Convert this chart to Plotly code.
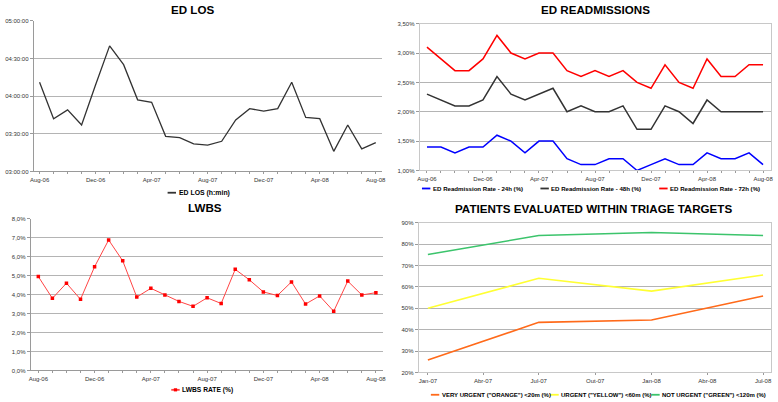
import plotly.graph_objects as go

W, H = 778, 402

# ---------------- data ----------------
months = ["Aug-06", "Sep-06", "Oct-06", "Nov-06", "Dec-06", "Jan-07", "Feb-07", "Mar-07",
          "Apr-07", "May-07", "Jun-07", "Jul-07", "Aug-07", "Sep-07", "Oct-07", "Nov-07",
          "Dec-07", "Jan-08", "Feb-08", "Mar-08", "Apr-08", "May-08", "Jun-08", "Jul-08",
          "Aug-08"]
month_labels = ["Aug-06", "Dec-06", "Apr-07", "Aug-07", "Dec-07", "Apr-08", "Aug-08"]

ed_los = ["04:11", "03:42", "03:49", "03:37", "04:09", "04:40", "04:25", "03:57",
          "03:55", "03:28", "03:27", "03:22", "03:21", "03:24", "03:41", "03:50",
          "03:48", "03:50", "04:11", "03:43", "03:42", "03:16", "03:37", "03:18",
          "03:23"]
los_ticks = ["03:00", "03:30", "04:00", "04:30", "05:00"]

readm_24h = [1.4, 1.4, 1.3, 1.4, 1.4, 1.6, 1.5, 1.3, 1.5, 1.5, 1.2, 1.1, 1.1, 1.2, 1.2,
             1.0, 1.1, 1.2, 1.1, 1.1, 1.3, 1.2, 1.2, 1.3, 1.1]
readm_48h = [2.3, 2.2, 2.1, 2.1, 2.2, 2.6, 2.3, 2.2, 2.3, 2.4, 2.0, 2.1, 2.0, 2.0, 2.1,
             1.7, 1.7, 2.1, 2.0, 1.8, 2.2, 2.0, 2.0, 2.0, 2.0]
readm_72h = [3.1, 2.9, 2.7, 2.7, 2.9, 3.3, 3.0, 2.9, 3.0, 3.0, 2.7, 2.6, 2.7, 2.6, 2.7,
             2.5, 2.4, 2.8, 2.5, 2.4, 2.9, 2.6, 2.6, 2.8, 2.8]
readm_ticks = [1.0, 1.5, 2.0, 2.5, 3.0, 3.5]

lwbs = [4.95, 3.80, 4.60, 3.75, 5.47, 6.88, 5.78, 3.87, 4.33, 3.98, 3.64, 3.38, 3.83,
        3.53, 5.33, 4.78, 4.14, 3.95, 4.67, 3.50, 3.93, 3.12, 4.71, 3.98, 4.10]
lwbs_ticks = [0, 1, 2, 3, 4, 5, 6, 7, 8]

triage_dates = ["2007-01-01", "2007-07-01", "2008-01-01", "2008-07-01"]
triage_orange = [25.8, 43.4, 44.5, 55.7]
triage_yellow = [50.0, 64.0, 58.0, 65.5]
triage_green = [75.1, 84.0, 85.4, 84.0]
triage_tick_dates = ["2007-01-01", "2007-04-01", "2007-07-01", "2007-10-01",
                     "2008-01-01", "2008-04-01", "2008-07-01"]
triage_tick_text = ["Jan-07", "Abr-07", "Jul-07", "Out-07", "Jan-08", "Abr-08", "Jul-08"]
triage_yticks = [20, 30, 40, 50, 60, 70, 80, 90]

# ---------------- helpers ----------------
FONT = "Liberation Sans, Arial, sans-serif"
GRID = "#b4b4b4"
AXIS = "#9a9a9a"
TICKC = "#333333"


def px(x):
    return x / W


def py(y):
    return 1 - y / H


def fmt_pct(v, nd):
    return (f"{v:.{nd}f}").replace(".", ",") + "%"


def cat_axis(domain, rng, anchor):
    return dict(domain=domain, anchor=anchor, type="category", range=rng,
                tickmode="array", tickvals=months,
                ticktext=[m if m in month_labels else "" for m in months],
                ticks="outside", ticklen=2, tickcolor=AXIS, tickwidth=1,
                showline=True, linecolor=AXIS, linewidth=1, showgrid=False,
                tickfont=dict(size=6, color=TICKC, family=FONT), zeroline=False)


def val_axis(domain, anchor, mirror=False, **kw):
    d = dict(domain=domain, anchor=anchor, showline=True, linecolor=AXIS, linewidth=1,
             showgrid=True, gridcolor=GRID, gridwidth=1, ticks="outside", ticklen=3,
             tickcolor=AXIS, zeroline=False,
             tickfont=dict(size=6, color=TICKC, family=FONT))
    if mirror:
        d["mirror"] = True
        d["linecolor"] = "#c8c8c8"
    d.update(kw)
    return d


fig = go.Figure()

# ---------------- panel 1 : ED LOS ----------------
fig.add_trace(go.Scatter(x=months, y=[f"2000-01-01 {v}:00" for v in ed_los],
                         mode="lines", line=dict(color="#333333", width=1.3),
                         name="ED LOS (h:min)", xaxis="x", yaxis="y", showlegend=False))

# ---------------- panel 2 : readmissions ----------------
for vals, col, nm in [(readm_24h, "#0000ff", "ED Readmission Rate - 24h (%)"),
                      (readm_48h, "#333333", "ED Readmission Rate - 48h (%)"),
                      (readm_72h, "#ff0000", "ED Readmission Rate - 72h (%)")]:
    fig.add_trace(go.Scatter(x=months, y=vals, mode="lines", line=dict(color=col, width=1.5),
                             name=nm, xaxis="x2", yaxis="y2", showlegend=False))

# ---------------- panel 3 : LWBS ----------------
fig.add_trace(go.Scatter(x=months, y=lwbs, mode="lines+markers",
                         line=dict(color="#ff4444", width=1),
                         marker=dict(symbol="square", size=3.5, color="#ff0000"),
                         name="LWBS RATE (%)", xaxis="x3", yaxis="y3", showlegend=False))

# ---------------- panel 4 : triage ----------------
for vals, col, nm in [(triage_orange, "#ff6a1a", 'VERY URGENT ("ORANGE") <20m (%)'),
                      (triage_yellow, "#ffff33", 'URGENT ("YELLOW") <60m (%)'),
                      (triage_green, "#3cc46c", 'NOT URGENT ("GREEN") <120m (%)')]:
    fig.add_trace(go.Scatter(x=triage_dates, y=vals, mode="lines",
                             line=dict(color=col, width=1.6),
                             name=nm, xaxis="x4", yaxis="y4", showlegend=False))

# ---------------- axes ----------------
layout = dict(
    width=W, height=H, margin=dict(l=0, r=0, t=0, b=0),
    paper_bgcolor="white", plot_bgcolor="white", showlegend=False,
    font=dict(family=FONT, color="#000000"),
    xaxis=cat_axis([px(30), px(382)], [-0.42, 24.45], "y"),
    yaxis=val_axis([py(171), py(18)], "x", type="date",
                   range=["2000-01-01 03:00", "2000-01-01 05:00"],
                   tickmode="array", tickvals=[f"2000-01-01 {t}" for t in los_ticks],
                   ticktext=[t + ":00" for t in los_ticks]),
    xaxis2=cat_axis([px(420), px(775)], [-0.52, 24.57], "y2"),
    yaxis2=val_axis([py(170), py(21)], "x2", mirror=True, range=[1.0, 3.5],
                    tickmode="array", tickvals=readm_ticks,
                    ticktext=[fmt_pct(v, 2) for v in readm_ticks]),
    xaxis3=cat_axis([px(27), px(383)], [-0.54, 24.51], "y3"),
    yaxis3=val_axis([py(373), py(219)], "x3", range=[0, 8],
                    tickmode="array", tickvals=lwbs_ticks,
                    ticktext=[fmt_pct(v, 1) for v in lwbs_ticks]),
    xaxis4=dict(domain=[px(419), px(775)], anchor="y4", type="date",
                range=["2006-12-17", "2008-07-14"], tickmode="array",
                tickvals=triage_tick_dates, ticktext=triage_tick_text,
                ticks="outside", ticklen=2, tickcolor=AXIS, showline=True,
                linecolor=AXIS, showgrid=False, zeroline=False,
                tickfont=dict(size=6, color=TICKC, family=FONT)),
    yaxis4=val_axis([py(375), py(223)], "x4", mirror=True, range=[20, 90],
                    tickmode="array", tickvals=triage_yticks,
                    ticktext=[f"{v}%" for v in triage_yticks]),
)
fig.update_layout(**layout)
fig.update_layout(xaxis2=dict(mirror=True, linecolor="#c8c8c8"),
                  xaxis4=dict(mirror=True, linecolor="#c8c8c8"))

# ---------------- titles ----------------
titles = [("ED LOS", 190.7, 6.5), ("ED READMISSIONS", 597.5, 6.5),
          ("LWBS", 203, 208), ("PATIENTS EVALUATED WITHIN TRIAGE TARGETS", 595.5, 208.5)]
for t, x, y in titles:
    fig.add_annotation(text=f"<b>{t}</b>", x=px(x), y=py(y), xref="paper", yref="paper",
                       showarrow=False, xanchor="center", yanchor="middle",
                       font=dict(size=11.6, family=FONT, color="#000000"))

# ---------------- legends (line sample + text) ----------------
shapes = []


def legend_entry(x0, y, color, text, size, marker=False):
    shapes.append(dict(type="line", xref="paper", yref="paper", x0=px(x0), x1=px(x0 + 8.5),
                       y0=py(y), y1=py(y), line=dict(color=color, width=1.8)))
    if marker:
        shapes.append(dict(type="rect", xref="paper", yref="paper",
                           x0=px(x0 + 2.6), x1=px(x0 + 5.9), y0=py(y + 1.6), y1=py(y - 1.6),
                           fillcolor="#ff0000", line=dict(width=0)))
    fig.add_annotation(text=f"<b>{text}</b>", x=px(x0 + 9), y=py(y), xref="paper",
                       yref="paper", showarrow=False, xanchor="left", yanchor="middle",
                       font=dict(size=size, family=FONT, color="#000000"))


legend_entry(165.3, 192.6, "#333333", "ED LOS (h:min)", 6.9)
legend_entry(422.3, 188.3, "#0000ff", "ED Readmission Rate - 24h (%)", 6.1)
legend_entry(542, 188.3, "#333333", "ED Readmission Rate - 48h (%)", 6.1)
legend_entry(662, 188.3, "#ff0000", "ED Readmission Rate - 72h (%)", 6.1)
legend_entry(169, 392.7, "#ff4444", "LWBS RATE (%)", 6.7, marker=True)
legend_entry(431.3, 397.7, "#ff6a1a", 'VERY URGENT ("ORANGE") <20m (%)', 6.0)
legend_entry(552, 397.7, "#ffff33", 'URGENT ("YELLOW") <60m (%)', 6.0)
legend_entry(654, 397.7, "#3cc46c", 'NOT URGENT ("GREEN") <120m (%)', 6.0)

fig.update_layout(shapes=shapes)

fig.write_html("out.html",
               config={"displayModeBar": False},
               post_script="document.body.style.margin='0';"
                           "document.body.style.padding='0';"
                           "document.body.style.overflow='hidden';")
